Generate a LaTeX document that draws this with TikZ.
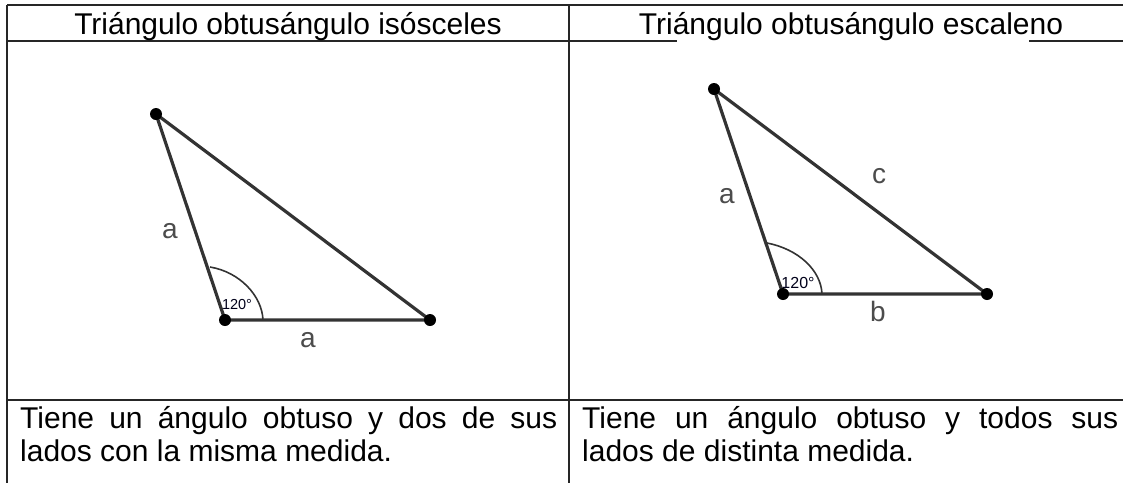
\documentclass[tikz,border=0pt]{standalone}
\usepackage{fontspec}
\setmainfont{Liberation Sans}
\begin{document}
\begin{tikzpicture}[x=1pt,y=-1pt,
  grid/.style={line width=2pt,draw=black!85},
  side/.style={line width=3.2pt,draw=black!80},
  arcline/.style={line width=1.6pt,draw=black!80},
  vdot/.style={circle,fill=black,inner sep=0pt,minimum size=12pt},
  head/.style={anchor=base,inner sep=0pt,font=\fontsize{30}{36}\selectfont},
  body/.style={anchor=base west,inner sep=0pt,font=\fontsize{30}{36}\selectfont},
  lab/.style={inner sep=0pt,text=black!70,font=\fontsize{28}{32}\selectfont},
  ang/.style={inner sep=0pt,text=black!90!blue}]
\useasboundingbox (0,0) rectangle (1123,483);
% table
\coordinate (tl) at (7,5);
\coordinate (tr) at (1123,5);
\coordinate (bl) at (7,483);
\coordinate (hl) at (7,41);
\coordinate (hm) at (569,41);
\coordinate (hg1) at (677,41);
\coordinate (hg2) at (1029,41);
\coordinate (hr) at (1123,41);
\coordinate (ml) at (7,400);
\coordinate (mr) at (1123,400);
\coordinate (dt) at (569,5);
\coordinate (db) at (569,483);
\draw[grid] (tl) -- (tr);
\draw[grid,line width=2.6pt] (tl) -- (bl);
\draw[grid] (dt) -- (db);
\draw[grid] (hl) -- (hm) -- (hg1);
\draw[grid] (hg2) -- (hr);
\draw[grid] (ml) -- (mr);
% headers
\node[head] (h1) at (288,34) {Triángulo obtusángulo isósceles};
\node[head] (h2) at (851,34) {Triángulo obtusángulo escaleno};
% bottom texts
\node[body] (t1a) at (20,428) {\makebox[537pt][s]{Tiene un ángulo obtuso y dos de sus}};
\node[body] (t1b) at (20,461) {lados con la misma medida.};
\node[body] (t2a) at (582,428) {\makebox[536pt][s]{Tiene un ángulo obtuso y todos sus}};
\node[body] (t2b) at (582,461) {lados de distinta medida.};
% left triangle
\coordinate (A1) at (156,114);
\coordinate (B1) at (225,320);
\coordinate (C1) at (430,320);
\draw[side] (A1) -- (B1) -- (C1) -- cycle;
\draw[arcline] (263,320) .. controls (262,296) and (240,272) .. (210,267);
\node[vdot] (dA1) at (A1) {};
\node[vdot] (dB1) at (B1) {};
\node[vdot] (dC1) at (C1) {};
\node[lab] (la1) at (170,231) {a};
\node[lab] (la2) at (308,340) {a};
\node[ang,font=\fontsize{14.5}{16}\selectfont] (g1) at (237,304) {120°};
% right triangle
\coordinate (A2) at (714,89);
\coordinate (B2) at (783,294);
\coordinate (C2) at (987,294);
\draw[side] (A2) -- (B2) -- (C2) -- cycle;
\draw[arcline] (822,294) .. controls (821,270) and (798,249) .. (767,243);
\node[vdot] (dA2) at (A2) {};
\node[vdot] (dB2) at (B2) {};
\node[vdot] (dC2) at (C2) {};
\node[lab] (lb1) at (727,196) {a};
\node[lab] (lb2) at (879,176) {c};
\node[lab] (lb3) at (878,311) {b};
\node[ang,font=\fontsize{16}{18}\selectfont] (g2) at (798,283) {120°};
\end{tikzpicture}
\end{document}
